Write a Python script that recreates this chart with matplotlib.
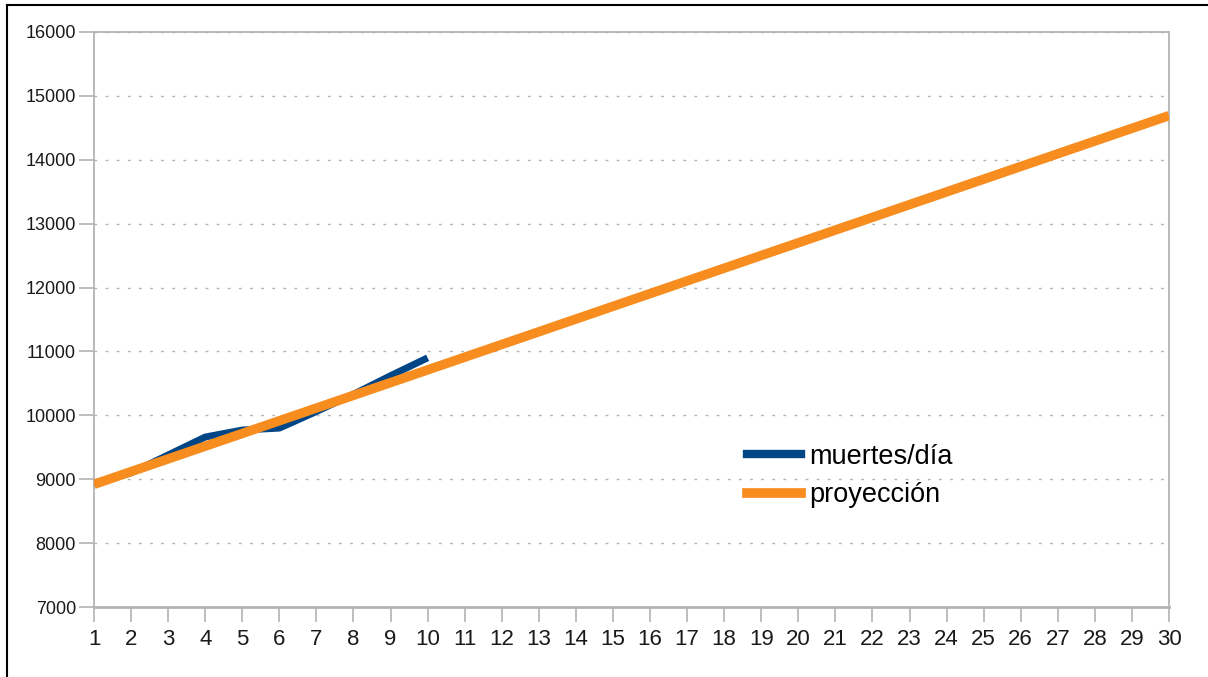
import matplotlib
matplotlib.use("Agg")
import matplotlib.pyplot as plt
from matplotlib.lines import Line2D

days = list(range(1, 31))
muertes_dia = [8940, 9100, 9380, 9660, 9770, 9800, 10060, 10330, 10620, 10900]
proyeccion = [8920, 9119, 9318, 9517, 9716, 9915, 10114, 10313, 10512, 10711,
              10910, 11109, 11308, 11507, 11706, 11905, 12104, 12303, 12502, 12701,
              12900, 13099, 13298, 13497, 13696, 13895, 14094, 14293, 14492, 14691]
yticks = list(range(7000, 16001, 1000))
labels = ["muertes/día", "proyección"]

blue = "#004586"
orange = "#f78d1e"
gray = "#b3b3b3"

plt.rcParams['font.family'] = ['Liberation Sans', 'DejaVu Sans']

W, H = 1208, 677
fig = plt.figure(figsize=(W / 100, H / 100), dpi=100)
ax = fig.add_axes([94 / W, 1 - 607 / H, (1169 - 94) / W, (607 - 32) / H])

ax.plot(days[:len(muertes_dia)], muertes_dia, color=blue, lw=5, solid_capstyle='butt', zorder=3)
ax.plot(days, proyeccion, color=orange, lw=6.8, solid_capstyle='butt', zorder=4)

ax.set_xlim(1, 30)
ax.set_ylim(7000, 16000)
ax.set_xticks(days)
ax.set_xticklabels([str(d) for d in days], fontsize=16, color="#1a1a1a")
ax.set_yticks(yticks)
ax.set_yticklabels([str(v) for v in yticks], fontsize=13, color="#1a1a1a")
ax.tick_params(axis='both', direction='out', color=gray, width=1.2, length=11)
ax.tick_params(axis='x', pad=5)
ax.tick_params(axis='y', pad=2)
for s in ax.spines.values():
    s.set_color(gray)
    s.set_linewidth(1.3)
ax.spines['bottom'].set_linewidth(2)
ax.grid(axis='y', color=gray, linestyle=(0, (2, 6)), linewidth=1, zorder=0)
ax.set_axisbelow(True)

handles = [Line2D([0], [0], color=blue, lw=6), Line2D([0], [0], color=orange, lw=7)]
fig.legend(handles, labels, loc='upper left', bbox_to_anchor=(736 / W, 1 - 433 / H),
           frameon=False, fontsize=19.5, handlelength=2.0, handletextpad=0.3,
           labelspacing=0.45, borderaxespad=0)

# figure frame (top and left visible)
fig.add_artist(Line2D([7 / W, 7 / W], [0, 1 - 5 / H], color='black', lw=1.5, transform=fig.transFigure))
fig.add_artist(Line2D([7 / W, 1], [1 - 5 / H, 1 - 5 / H], color='black', lw=1.5, transform=fig.transFigure))

fig.savefig("out.png", dpi=100)
